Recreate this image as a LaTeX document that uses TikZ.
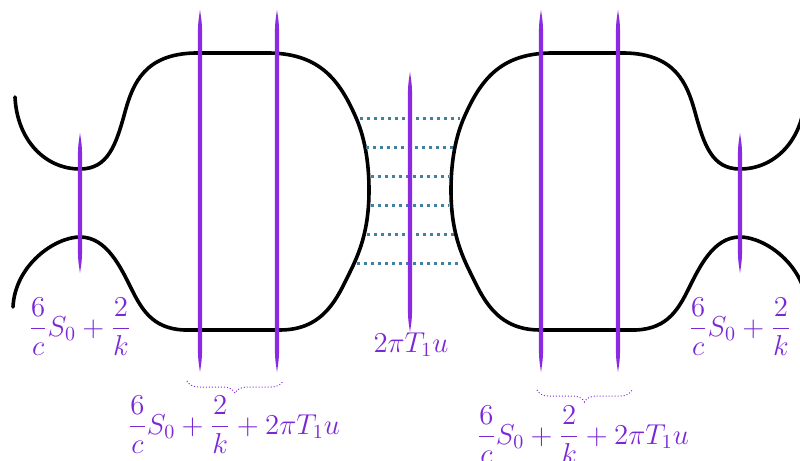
\documentclass[tikz,border=0pt]{standalone}
\usetikzlibrary{decorations.pathreplacing}
\definecolor{vio}{RGB}{138,43,226}
\definecolor{viotext}{RGB}{122,40,215}
\definecolor{dotblue}{RGB}{66,128,160}
\tikzset{
 curve/.style={line width=1.8pt, black, line cap=round, line join=round},
 dotline/.style={dotblue, line width=1.5pt, dash pattern=on 1.5pt off 2pt},
 lab/.style={text=viotext, inner sep=0pt, font=\Large},
 bracestyle/.style={vio, line width=0.5pt, densely dotted, decorate, decoration={brace, mirror, amplitude=6pt}},
}
\newcommand{\spindle}[3]{%
 \fill[vio] (#1,#2) .. controls (#1+2.1,#2+14) .. (#1+2.1,#2+34) -- (#1+2.1,#3-34) .. controls (#1+2.1,#3-14) .. (#1,#3) .. controls (#1-2.1,#3-14) .. (#1-2.1,#3-34) -- (#1-2.1,#2+34) .. controls (#1-2.1,#2+14) .. cycle;}
\newcommand{\blobpath}{%
 \draw[curve] (15,97) .. controls (17,140) and (45,169) .. (80,169)
  .. controls (108,169) and (116,145) .. (125,112)
  .. controls (133,83) and (145,54) .. (195,53)
  -- (270,53)
  .. controls (320,54) and (340,80) .. (357,120)
  .. controls (364,137) and (369,160) .. (369,190)
  .. controls (369,225) and (362,248) .. (350,272)
  .. controls (338,296) and (325,330) .. (280,330)
  -- (190,330)
  .. controls (155,331) and (143,312) .. (132,290)
  .. controls (121,268) and (107,237) .. (80,237)
  .. controls (55,237) and (15,265) .. (13,307);}
\begin{document}
\begin{tikzpicture}[x=0.5pt, y=-0.5pt]
\useasboundingbox (0,0) rectangle (800,461);
\clip (0,0) rectangle (800,461);
% black outlines
\blobpath
\begin{scope}[shift={(820,0)}, xscale=-1]
\blobpath
\end{scope}
% dotted links
\coordinate (dL1) at (360,118); \coordinate (dR1) at (460,118);
\coordinate (dL2) at (366,147); \coordinate (dR2) at (454,147);
\coordinate (dL3) at (371,176); \coordinate (dR3) at (449,176);
\coordinate (dL4) at (371,205); \coordinate (dR4) at (449,205);
\coordinate (dL5) at (367,234); \coordinate (dR5) at (454,234);
\coordinate (dL6) at (357,263); \coordinate (dR6) at (462,263);
\foreach \i in {1,...,6} {\draw[dotline] (dL\i) -- (dR\i);}
% purple spindles
\spindle{80}{133}{273}
\spindle{200}{10}{372}
\spindle{277}{10}{372}
\spindle{410}{72}{332}
\spindle{541}{10}{372}
\spindle{618}{10}{372}
\spindle{740}{133}{273}
% braces
\coordinate (bL1) at (187,381); \coordinate (bL2) at (283,381);
\coordinate (bR1) at (537,390); \coordinate (bR2) at (632,390);
\draw[bracestyle] (bL1) -- (bL2);
\draw[bracestyle] (bR1) -- (bR2);
% labels
\node[lab, anchor=base] (lab1) at (80,336) {$\displaystyle\frac{6}{c}S_0+\frac{2}{k}$};
\node[lab, anchor=base] (lab2) at (740,336) {$\displaystyle\frac{6}{c}S_0+\frac{2}{k}$};
\node[lab, anchor=base] (lab3) at (411,352) {$2\pi T_1u$};
\node[lab, anchor=base] (lab4) at (234,434) {$\displaystyle\frac{6}{c}S_0+\frac{2}{k}+2\pi T_1u$};
\node[lab, anchor=base] (lab5) at (583,444) {$\displaystyle\frac{6}{c}S_0+\frac{2}{k}+2\pi T_1u$};
\end{tikzpicture}
\end{document}
